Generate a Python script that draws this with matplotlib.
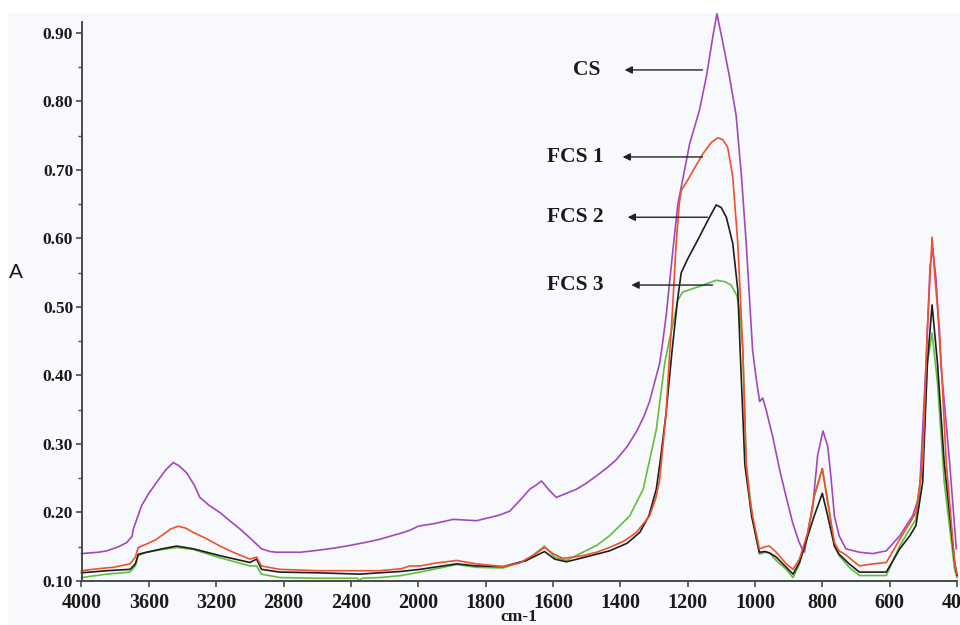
"""
   FTIR absorbance spectra of CS and FCS 1-3 films
   x axis in cm-1, scale doubled below 2000 cm-1
"""

import numpy as np
import matplotlib
matplotlib.use('Agg')
import matplotlib.pyplot as plt
from matplotlib.patches import Rectangle
from matplotlib.ticker import FixedLocator, MultipleLocator, FormatStrFormatter

# wavenumber (cm-1) / absorbance pairs for each sample
cs_wn = [4000, 3900, 3850, 3780, 3732, 3700, 3692, 3643, 3600, 3554, 3500, 3455, 3420, 3376,
         3330, 3297, 3240, 3178, 3120, 3059, 3000, 2931, 2880, 2842, 2700, 2624, 2500, 2426,
         2300, 2228, 2100, 2050, 2000, 1950, 1896, 1827, 1760, 1728, 1690, 1669, 1650, 1634,
         1610, 1590, 1560, 1530, 1500, 1472, 1440, 1412, 1380, 1352, 1330, 1313, 1283, 1275,
         1263, 1254, 1240, 1229, 1219, 1194, 1165, 1144, 1125, 1113, 1095, 1076, 1056, 1040,
         1026, 1007, 996, 986, 977, 967, 947, 927, 907, 888, 870, 858, 853, 840, 829, 814,
         798, 784, 774, 764, 750, 730, 690, 650, 610, 570, 532, 512, 492, 480, 472, 462,
         448, 422, 402]
cs_abs = [0.140, 0.142, 0.144, 0.150, 0.156, 0.165, 0.176, 0.210, 0.228, 0.244, 0.262, 0.273,
          0.268, 0.258, 0.240, 0.222, 0.210, 0.200, 0.188, 0.176, 0.163, 0.147, 0.143, 0.142,
          0.142, 0.144, 0.148, 0.151, 0.157, 0.161, 0.170, 0.174, 0.180, 0.184, 0.190, 0.188,
          0.196, 0.202, 0.222, 0.234, 0.240, 0.246, 0.232, 0.222, 0.228, 0.234, 0.243, 0.253,
          0.265, 0.277, 0.296, 0.318, 0.340, 0.362, 0.418, 0.445, 0.490, 0.534, 0.600, 0.650,
          0.675, 0.738, 0.787, 0.837, 0.895, 0.928, 0.885, 0.837, 0.780, 0.690, 0.593, 0.437,
          0.394, 0.362, 0.367, 0.350, 0.310, 0.263, 0.222, 0.185, 0.158, 0.145, 0.142, 0.180,
          0.205, 0.283, 0.319, 0.297, 0.250, 0.195, 0.166, 0.147, 0.142, 0.140, 0.144, 0.166,
          0.195, 0.224, 0.418, 0.560, 0.585, 0.540, 0.418, 0.273, 0.147]

fcs1_wn = [4000, 3900, 3811, 3712, 3680, 3663, 3613, 3560, 3514, 3470, 3425, 3380, 3336, 3260,
           3178, 3090, 3000, 2960, 2945, 2931, 2822, 2600, 2426, 2228, 2100, 2050, 1995, 1950,
           1886, 1827, 1748, 1700, 1679, 1650, 1625, 1600, 1570, 1540, 1511, 1470, 1432, 1390,
           1352, 1313, 1295, 1283, 1264, 1254, 1248, 1234, 1225, 1219, 1200, 1184, 1154, 1130,
           1110, 1095, 1081, 1066, 1051, 1036, 1026, 1015, 1007, 987, 970, 957, 937, 907, 887,
           868, 843, 824, 800, 784, 764, 750, 730, 690, 650, 610, 570, 540, 522, 502, 488, 474,
           465, 452, 432, 407, 400]
fcs1_abs = [0.115, 0.118, 0.120, 0.125, 0.135, 0.149, 0.154, 0.160, 0.168, 0.176, 0.180, 0.177,
            0.171, 0.162, 0.151, 0.141, 0.132, 0.135, 0.128, 0.122, 0.117, 0.115, 0.115, 0.115,
            0.118, 0.122, 0.122, 0.126, 0.130, 0.125, 0.121, 0.126, 0.132, 0.140, 0.149, 0.140,
            0.133, 0.135, 0.137, 0.142, 0.149, 0.158, 0.171, 0.195, 0.220, 0.248, 0.345, 0.428,
            0.470, 0.593, 0.650, 0.670, 0.685, 0.699, 0.724, 0.740, 0.747, 0.744, 0.733, 0.690,
            0.593, 0.437, 0.270, 0.220, 0.195, 0.147, 0.150, 0.151, 0.142, 0.125, 0.117, 0.132,
            0.171, 0.224, 0.264, 0.214, 0.156, 0.144, 0.138, 0.122, 0.125, 0.127, 0.161, 0.185,
            0.200, 0.273, 0.467, 0.602, 0.539, 0.467, 0.273, 0.127, 0.110]

fcs2_wn = [4000, 3850, 3712, 3680, 3663, 3613, 3520, 3435, 3336, 3178, 3000, 2960, 2931, 2822,
           2600, 2347, 2228, 2100, 1995, 1886, 1827, 1748, 1679, 1625, 1595, 1560, 1511, 1432,
           1380, 1342, 1315, 1293, 1280, 1264, 1246, 1230, 1219, 1200, 1175, 1135, 1115, 1100,
           1085, 1066, 1051, 1044, 1030, 1010, 987, 970, 957, 937, 907, 887, 868, 843, 824, 800,
           784, 764, 750, 720, 690, 650, 610, 570, 540, 522, 502, 488, 474, 458, 438, 407, 400]
fcs2_abs = [0.112, 0.115, 0.117, 0.125, 0.139, 0.142, 0.147, 0.151, 0.147, 0.137, 0.127, 0.132,
            0.117, 0.113, 0.112, 0.110, 0.112, 0.114, 0.117, 0.125, 0.122, 0.121, 0.130, 0.143,
            0.132, 0.128, 0.134, 0.144, 0.155, 0.171, 0.195, 0.234, 0.280, 0.345, 0.437, 0.510,
            0.550, 0.570, 0.593, 0.631, 0.649, 0.645, 0.631, 0.593, 0.525, 0.437, 0.270, 0.195,
            0.142, 0.143, 0.141, 0.135, 0.120, 0.110, 0.127, 0.166, 0.195, 0.228, 0.195, 0.151,
            0.139, 0.125, 0.113, 0.113, 0.113, 0.147, 0.166, 0.181, 0.244, 0.418, 0.503, 0.418,
            0.273, 0.127, 0.108]

fcs3_wn = [4000, 3850, 3712, 3680, 3663, 3613, 3520, 3435, 3336, 3178, 3000, 2960, 2931, 2822,
           2600, 2360, 2347, 2335, 2228, 2100, 1995, 1886, 1827, 1748, 1679, 1625, 1595, 1560,
           1511, 1470, 1432, 1372, 1332, 1293, 1268, 1255, 1239, 1229, 1214, 1165, 1115, 1090,
           1071, 1054, 1046, 1036, 1026, 1007, 987, 970, 957, 937, 907, 887, 868, 843, 824, 800,
           784, 764, 750, 720, 690, 610, 570, 540, 522, 502, 488, 474, 458, 438, 407, 400]
fcs3_abs = [0.105, 0.110, 0.113, 0.122, 0.137, 0.142, 0.146, 0.149, 0.146, 0.134, 0.122, 0.122,
            0.110, 0.105, 0.104, 0.104, 0.100, 0.104, 0.105, 0.108, 0.113, 0.124, 0.120, 0.119,
            0.130, 0.151, 0.135, 0.130, 0.142, 0.152, 0.166, 0.195, 0.234, 0.321, 0.418, 0.450,
            0.485, 0.510, 0.522, 0.530, 0.539, 0.537, 0.532, 0.517, 0.496, 0.437, 0.270, 0.190,
            0.139, 0.142, 0.141, 0.130, 0.117, 0.105, 0.125, 0.168, 0.224, 0.264, 0.219, 0.151,
            0.137, 0.120, 0.108, 0.108, 0.151, 0.176, 0.190, 0.273, 0.418, 0.462, 0.390, 0.245,
            0.117, 0.105]

xticks = [4000, 3600, 3200, 2800, 2400, 2000, 1800, 1600, 1400, 1200, 1000, 800, 600, 400]
labels = ['CS', 'FCS 1', 'FCS 2', 'FCS 3']
label_wn = [1500, 1533, 1533, 1533]
label_abs = [0.846, 0.719, 0.631, 0.532]
arrow_head = [1387, 1393, 1378, 1367]
arrow_tail = [1156, 1156, 1141, 1126]


def fwd(w):
    w = np.asarray(w, dtype=float)
    return np.where(w >= 2000, (w - 2000) / 400.0, (w - 2000) / 200.0)


def inv(u):
    u = np.asarray(u, dtype=float)
    return np.where(u >= 0, 2000 + 400.0 * u, 2000 + 200.0 * u)


serif_bold = dict(family='Liberation Serif', weight='bold')

fig = plt.figure(figsize=(9.6, 6.25), dpi=100, facecolor='white')
# light panel behind the plot, white strip on top and left
fig.patches.append(Rectangle((8 / 960, 0), 1, 1 - 12.7 / 625, transform=fig.transFigure,
                             facecolor='#f7f9fc', edgecolor='none', zorder=-10))
ax = fig.add_axes([81.5 / 960, 44 / 625, 875.5 / 960, 559 / 625])
ax.patch.set_alpha(0)

ax.set_xscale('function', functions=(fwd, inv))
ax.set_xlim(4000, 400)
ax.set_ylim(0.10, 0.916)

ax.plot(cs_wn, cs_abs, color='#a347c0', lw=1.2, clip_on=False)
ax.plot(fcs3_wn, fcs3_abs, color='#62bd3c', lw=1.2, clip_on=False)
ax.plot(fcs2_wn, fcs2_abs, color='#1e1e1e', lw=1.2, clip_on=False)
ax.plot(fcs1_wn, fcs1_abs, color='#f0502e', lw=1.2, clip_on=False)

for name, tx, ty, head, tail in zip(labels, label_wn, label_abs, arrow_head, arrow_tail):
    ax.text(tx, ty, name, ha='center', va='center', fontsize=15.5, color='#1a1a1a', **serif_bold)
    ax.annotate('', xy=(head, ty), xytext=(tail, ty),
                arrowprops=dict(arrowstyle='-|>', color='#222222', lw=1.0,
                                mutation_scale=11, shrinkA=0, shrinkB=0))

ax.xaxis.set_major_locator(FixedLocator(xticks))
ax.xaxis.set_major_formatter(FormatStrFormatter('%d'))
ax.xaxis.set_minor_locator(FixedLocator([]))
ax.yaxis.set_major_locator(MultipleLocator(0.1))
ax.yaxis.set_minor_locator(MultipleLocator(0.05))
ax.yaxis.set_major_formatter(FormatStrFormatter('%.2f'))

for s in ['top', 'right']:
    ax.spines[s].set_visible(False)
for s in ['left', 'bottom']:
    ax.spines[s].set_color('#4a4a4a')
    ax.spines[s].set_linewidth(1.4)

ax.tick_params(axis='both', which='major', direction='out', length=4, width=1.2,
               color='#4a4a4a', labelcolor='#1a1a1a')
ax.tick_params(axis='y', which='minor', direction='out', length=3, width=1.0, color='#4a4a4a')
ax.tick_params(axis='x', pad=5)
ax.tick_params(axis='y', pad=2)
for t in ax.get_xticklabels():
    t.set(fontsize=14.5, **serif_bold)
for t in ax.get_yticklabels():
    t.set(fontsize=12.5, **serif_bold)

fig.text(519 / 960, 1 - 617 / 625, 'cm-1', ha='center', va='center', fontsize=12.5,
         color='#1a1a1a', **serif_bold)
fig.text(16 / 960, 1 - 272 / 625, 'A', ha='center', va='center', fontsize=15,
         family='Liberation Sans', color='#1a1a1a')

fig.savefig('out.png', dpi=100, facecolor=fig.get_facecolor())
